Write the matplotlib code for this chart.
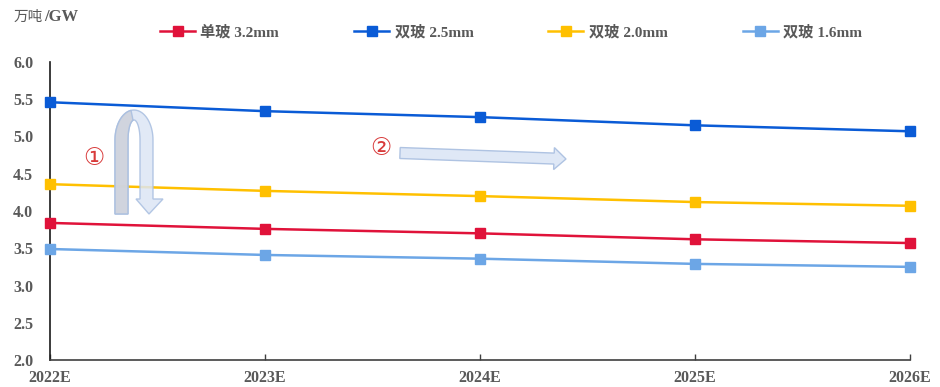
import numpy as np
import matplotlib
matplotlib.use("Agg")
import matplotlib.pyplot as plt
import matplotlib.transforms as mtransforms
from matplotlib.patches import Polygon, FancyArrow

# ── Data ────────────────────────────────────────────────────────────────
years = ["2022E", "2023E", "2024E", "2025E", "2026E"]
single_32 = [3.84, 3.76, 3.70, 3.62, 3.57]
double_25 = [5.46, 5.34, 5.26, 5.15, 5.07]
double_20 = [4.36, 4.27, 4.20, 4.12, 4.07]
double_16 = [3.49, 3.41, 3.36, 3.29, 3.25]

series = [
    ("单玻 3.2mm", single_32, "#E0123A"),
    ("双玻 2.5mm", double_25, "#0A5BD6"),
    ("双玻 2.0mm", double_20, "#FFC000"),
    ("双玻 1.6mm", double_16, "#6CA6E6"),
]

GRAY = "#595959"
SERIF = ["Liberation Serif", "Noto Sans CJK SC"]
MIXED = ["Liberation Serif", "Noto Sans CJK SC", "DejaVu Sans"]

fig = plt.figure(figsize=(9.4, 3.87), dpi=100, facecolor="white")
ax = fig.add_axes([50 / 940, 1 - 360 / 387, 860 / 940, 298 / 387])

x = np.arange(len(years))
for label, vals, color in series:
    ax.plot(x, vals, "-s", color=color, linewidth=1.8, markersize=7,
            label=label, clip_on=False, zorder=3)

ax.set_xlim(0, len(years) - 1)
ax.set_ylim(2.0, 6.0)
ax.set_yticks(np.arange(2.0, 6.01, 0.5))
ax.set_xticks(x)
ax.set_xticklabels(years)
ax.set_yticklabels([f"{v:.1f}" for v in np.arange(2.0, 6.01, 0.5)])

for lab in ax.get_xticklabels() + ax.get_yticklabels():
    lab.set_family(SERIF)
    lab.set_fontweight("bold")
    lab.set_fontsize(11.5)
    lab.set_color(GRAY)

ax.tick_params(axis="x", direction="in", length=4, width=1, color="#404040", pad=7)
ax.tick_params(axis="y", length=0, pad=12)

for side in ("top", "right"):
    ax.spines[side].set_visible(False)
ax.spines["left"].set_color("#1a1a1a")
ax.spines["bottom"].set_color("#404040")
ax.spines["left"].set_linewidth(1.2)
ax.spines["bottom"].set_linewidth(1.2)

# unit label: Chinese part in regular weight, unit in bold serif right after it
unit_cn = fig.text(14 / 940, 1 - 17 / 387, "万吨", family=["Noto Sans CJK SC"],
                   fontsize=10.5, color=GRAY, va="center", ha="left")
fig.canvas.draw()
bb = unit_cn.get_window_extent()
fig.text((bb.x1 + 1) / 940, 1 - 17 / 387, "/GW", family=SERIF, fontweight="bold",
         fontsize=12, color=GRAY, va="center", ha="left")

# legend across the top
leg = fig.legend(loc="center", bbox_to_anchor=(511 / 940, 1 - 32 / 387), ncol=4,
                 frameon=False, handlelength=2.3, handletextpad=0.35,
                 columnspacing=4.9, prop={"family": MIXED, "size": 11})
for t in leg.get_texts():
    t.set_color(GRAY)
    t.set_fontweight("bold")

# pixel coordinates measured from the top-left corner of the figure
px = mtransforms.Affine2D().scale(1 / 940, -1 / 387).translate(0, 1) + fig.transFigure

# U-turn arrow (①)
cx, cy = 134.0, 140.0
t = np.linspace(np.pi, 0, 40)
outer = np.column_stack([cx + 19 * np.cos(t), cy - 30 * np.sin(t)])
inner = np.column_stack([cx + 6 * np.cos(t[::-1]), cy - 20 * np.sin(t[::-1])])
u_pts = np.vstack([
    [[115, 214]],
    outer,
    [[153, 199], [163, 199], [149, 214], [136, 199], [140, 199]],
    inner,
    [[128, 214]],
])
fig.patches.append(Polygon(u_pts, closed=True, transform=px, facecolor="#DCE6F5",
                           edgecolor="#A8BEE0", linewidth=1.0, alpha=0.85, zorder=5))
t2 = np.linspace(np.pi, np.pi * 0.55, 20)
leg_pts = np.vstack([
    [[115, 214]],
    np.column_stack([cx + 19 * np.cos(t2), cy - 30 * np.sin(t2)]),
    np.column_stack([cx + 6 * np.cos(t2[::-1]), cy - 20 * np.sin(t2[::-1])]),
    [[128, 214]],
])
fig.patches.append(Polygon(leg_pts, closed=True, transform=px, facecolor="#CDD1DA",
                           edgecolor="#A8BEE0", linewidth=1.0, alpha=0.85, zorder=6))

# straight arrow (②)
fig.patches.append(FancyArrow(400, 153, 166, 6, width=11, head_width=22, head_length=12,
                              length_includes_head=True, transform=px,
                              facecolor="#DCE6F5", edgecolor="#A8BEE0", linewidth=1.0,
                              alpha=0.9, zorder=5))

fig.text(94 / 940, 1 - 158 / 387, "①", fontsize=17, color="#D83A3A",
         family=["DejaVu Sans"], ha="center", va="center")
fig.text(381 / 940, 1 - 148 / 387, "②", fontsize=17, color="#D83A3A",
         family=["DejaVu Sans"], ha="center", va="center")

fig.savefig("out.png", dpi=100, facecolor="white")
